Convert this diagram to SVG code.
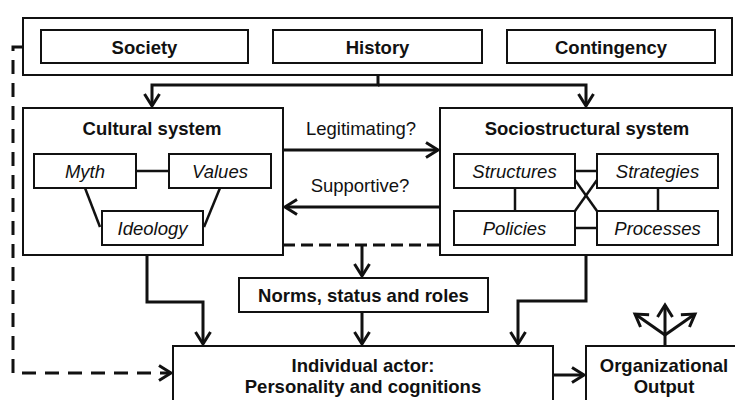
<svg xmlns="http://www.w3.org/2000/svg" width="735" height="400" viewBox="0 0 735 400">
  <style>
    .box { fill: #fff; stroke: #111; stroke-width: 2; }
    .link { fill: none; stroke: #111; stroke-width: 3; }
    .tie { fill: none; stroke: #111; stroke-width: 2.5; }
    .dash { fill: none; stroke: #111; stroke-width: 3; }
    text { font-family: "Liberation Sans", Arial, sans-serif; font-size: 18.5px; fill: #111; text-anchor: middle; }
    .b { font-weight: bold; }
    .i { font-style: italic; }
  </style>
  <defs>
    <marker id="arrow" markerUnits="userSpaceOnUse" markerWidth="20" markerHeight="20" viewBox="-14 -10 16 20" refX="0" refY="0" orient="auto">
      <path d="M-12,-7.5 L0,0 L-12,7.5" fill="none" stroke="#111" stroke-width="3"/>
    </marker>
  </defs>
  <rect width="735" height="400" fill="#fff"/>

  <!-- Environment: society, history, contingency -->
  <g id="environment">
    <rect class="box" x="23" y="18" width="709" height="57"/>
    <g id="society">
      <rect class="box" x="41" y="30" width="207" height="33"/>
      <text class="b" x="144.5" y="54">Society</text>
    </g>
    <g id="history">
      <rect class="box" x="273" y="30" width="209" height="33"/>
      <text class="b" x="377.5" y="54">History</text>
    </g>
    <g id="contingency">
      <rect class="box" x="507" y="30" width="208" height="33"/>
      <text class="b" x="611" y="54">Contingency</text>
    </g>
  </g>

  <!-- Cultural system -->
  <g id="cultural-system">
    <rect class="box" x="23" y="108" width="260" height="147"/>
    <text class="b" x="152" y="135">Cultural system</text>
    <g class="tie">
      <line x1="136" y1="171" x2="169" y2="171"/>
      <line x1="85" y1="188" x2="100" y2="227"/>
      <line x1="220" y1="188" x2="204" y2="227"/>
    </g>
    <g id="myth">
      <rect class="box" x="34" y="154" width="102" height="34"/>
      <text class="i" x="85" y="178">Myth</text>
    </g>
    <g id="values">
      <rect class="box" x="169" y="154" width="102" height="34"/>
      <text class="i" x="220" y="178">Values</text>
    </g>
    <g id="ideology">
      <rect class="box" x="102" y="211" width="101" height="34"/>
      <text class="i" x="152.5" y="235">Ideology</text>
    </g>
  </g>

  <!-- Sociostructural system -->
  <g id="sociostructural-system">
    <rect class="box" x="440" y="108" width="292" height="147"/>
    <text class="b" x="587" y="135">Sociostructural system</text>
    <g class="tie">
      <line x1="575" y1="171" x2="597" y2="171"/>
      <line x1="575" y1="228" x2="597" y2="228"/>
      <line x1="515" y1="188" x2="515" y2="211"/>
      <line x1="658" y1="188" x2="658" y2="211"/>
      <line x1="575" y1="180" x2="597" y2="211"/>
      <line x1="597" y1="180" x2="575" y2="211"/>
    </g>
    <g id="structures">
      <rect class="box" x="454" y="154" width="121" height="34"/>
      <text class="i" x="514.5" y="178">Structures</text>
    </g>
    <g id="strategies">
      <rect class="box" x="597" y="154" width="121" height="34"/>
      <text class="i" x="657.5" y="178">Strategies</text>
    </g>
    <g id="policies">
      <rect class="box" x="454" y="211" width="121" height="34"/>
      <text class="i" x="514.5" y="235">Policies</text>
    </g>
    <g id="processes">
      <rect class="box" x="597" y="211" width="121" height="34"/>
      <text class="i" x="657.5" y="235">Processes</text>
    </g>
  </g>

  <!-- Norms, status and roles -->
  <g id="norms">
    <rect class="box" x="239" y="278" width="249" height="34"/>
    <text class="b" x="363.5" y="302">Norms, status and roles</text>
  </g>

  <!-- Individual actor -->
  <g id="individual-actor">
    <rect class="box" x="173" y="346" width="380" height="70"/>
    <text class="b" x="363" y="372">Individual actor:</text>
    <text class="b" x="363" y="393">Personality and cognitions</text>
  </g>

  <!-- Organizational output -->
  <g id="organizational-output">
    <rect class="box" x="586" y="346" width="160" height="70"/>
    <text class="b" x="664" y="372">Organizational</text>
    <text class="b" x="664" y="393">Output</text>
  </g>

  <!-- Connectors -->
  <g id="connectors">
    <path class="link" d="M378,75 V85 H152 V106" marker-end="url(#arrow)"/>
    <path class="link" d="M378,85 H586 V106" marker-end="url(#arrow)"/>
    <path class="link" d="M283,150 H438" marker-end="url(#arrow)"/>
    <text x="361" y="135">Legitimating?</text>
    <path class="link" d="M440,207 H285" marker-end="url(#arrow)"/>
    <text x="360" y="192">Supportive?</text>
    <path class="dash" d="M283,245 H440" stroke-dasharray="12 6"/>
    <path class="dash" d="M362,245 V276" marker-end="url(#arrow)"/>
    <path class="link" d="M147,255 V302 H203 V344" marker-end="url(#arrow)"/>
    <path class="link" d="M586,255 V301 H518 V344" marker-end="url(#arrow)"/>
    <path class="link" d="M362,312 V344" marker-end="url(#arrow)"/>
    <path class="link" d="M553,375 H584" marker-end="url(#arrow)"/>
    <path class="dash" d="M23,47 H13 V373 H171" stroke-dasharray="14 9" marker-end="url(#arrow)"/>
    <path class="link" d="M665,346 V305" marker-end="url(#arrow)"/>
    <path class="link" d="M665,335 L635,314" marker-end="url(#arrow)"/>
    <path class="link" d="M665,335 L695,314" marker-end="url(#arrow)"/>
  </g>
</svg>
